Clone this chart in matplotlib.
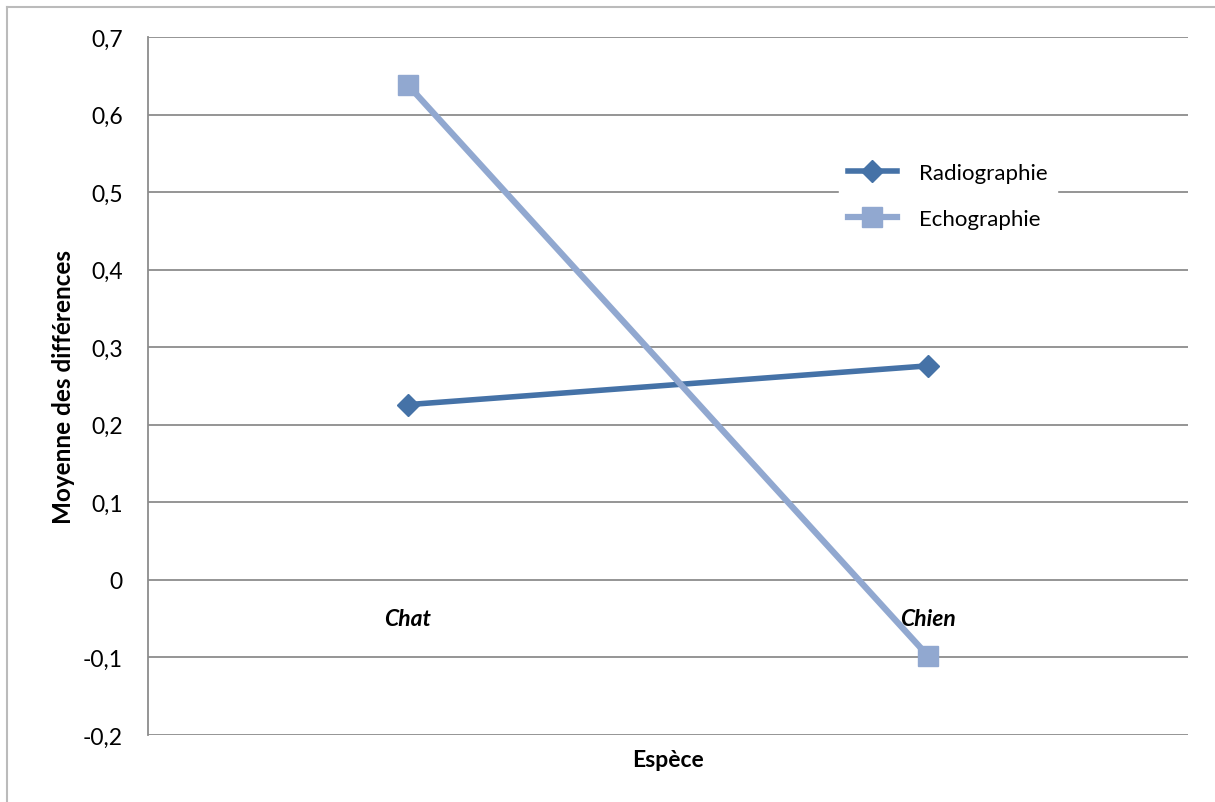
import matplotlib
matplotlib.use("Agg")
import matplotlib.pyplot as plt
from matplotlib.lines import Line2D

categories = ["Chat", "Chien"]
radiographie = [0.226, 0.276]
echographie = [0.638, -0.098]
yticks = [-0.2, -0.1, 0, 0.1, 0.2, 0.3, 0.4, 0.5, 0.6, 0.7]
ytick_labels = ["-0,2", "-0,1", "0", "0,1", "0,2", "0,3", "0,4", "0,5", "0,6", "0,7"]

plt.rcParams['font.family'] = ['Lato', 'DejaVu Sans']

W, H = 1215, 803
fig = plt.figure(figsize=(W / 100, H / 100), dpi=100)
ax = fig.add_axes([148 / W, 1 - 736 / H, (1188 - 148) / W, (736 - 38) / H])

grid_c = "#8c8c8c"
ax.set_ylim(-0.2, 0.7)
ax.set_xlim(-0.5, 1.5)
for y in yticks:
    ax.axhline(y, color=grid_c, lw=1.3, zorder=1)
for s in ["top", "right", "bottom"]:
    ax.spines[s].set_visible(False)
ax.spines["left"].set_color(grid_c)
ax.spines["left"].set_linewidth(1.3)

x = list(range(len(categories)))
ax.plot(x, radiographie, color="#4572A7", lw=4, marker="D", markersize=11,
        label="Radiographie", zorder=3)
ax.plot(x, echographie, color="#91A8D0", lw=4.5, marker="s", markersize=14,
        label="Echographie", zorder=3)

ax.set_yticks(yticks)
ax.set_yticklabels(ytick_labels, fontsize=16.5)
ax.tick_params(axis="y", length=0, pad=18)
ax.set_xticks([])
for xi, c in zip(x, categories):
    ax.text(xi, -0.05, c, ha="center", va="center", fontsize=16.5,
            fontweight="bold", fontstyle="italic")

ax.set_ylabel("Moyenne des différences", fontsize=17.5, fontweight="bold", labelpad=6)
ax.set_xlabel("Espèce", fontsize=16.5, fontweight="bold", labelpad=10)

leg = ax.legend(loc="upper left", bbox_to_anchor=((828 - 148) / 1040, (736 - 144) / 698),
                frameon=True, fancybox=False, edgecolor="white", facecolor="white",
                framealpha=1, fontsize=16, handlelength=2.2, labelspacing=1.15,
                handletextpad=1.0, borderpad=0.4)
leg.set_zorder(5)

fig.add_artist(Line2D([7 / W, 7 / W], [0, 1 - 8 / H], transform=fig.transFigure,
                      color="#bbbbbb", lw=1.5))
fig.add_artist(Line2D([7 / W, 1], [1 - 8 / H, 1 - 8 / H], transform=fig.transFigure,
                      color="#bbbbbb", lw=1.5))

fig.savefig("out.png", dpi=100)
